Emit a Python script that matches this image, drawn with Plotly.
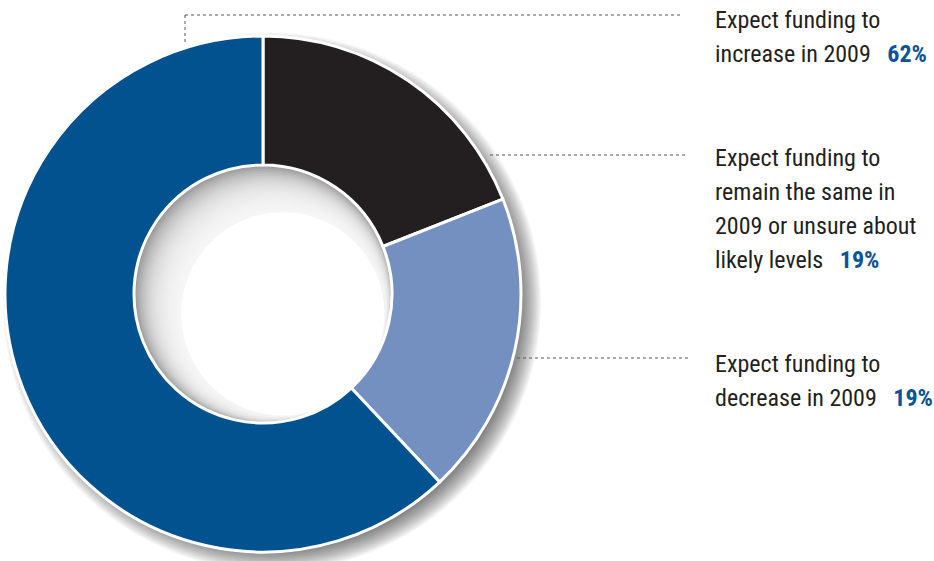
import plotly.graph_objects as go
import numpy as np

# ---- data ----
labels = [
    "Expect funding to remain the same in 2009 or unsure about likely levels",
    "Expect funding to decrease in 2009",
    "Expect funding to increase in 2009",
]
values = [19, 19, 62]
colors = ["#231f20", "#7490c0", "#02528f"]
label_lines = [
    ["Expect funding to", "remain the same in", "2009 or unsure about", "likely levels"],
    ["Expect funding to", "decrease in 2009"],
    ["Expect funding to", "increase in 2009"],
]
pct_text = ["19%", "19%", "62%"]

W, H = 934, 561
CX, CY, R = 263, 294, 258
HOLE = 0.5
FONT = "Roboto Condensed, Liberation Sans Narrow, DejaVu Sans Condensed, Noto Sans, sans-serif"
TXT = "#231f20"
PCT = "#0b5396"
LINE_GAP = 34


def px(x):
    return x / W


def py(y):
    return 1 - y / H


def circle(cx, cy, r, fill, opacity=1.0, layer="below"):
    return dict(type="circle", xref="paper", yref="paper",
                x0=px(cx - r), x1=px(cx + r), y0=py(cy + r), y1=py(cy - r),
                fillcolor=fill, opacity=opacity, line=dict(width=0), layer=layer)


shapes = []
# outer drop shadow (soft)
for s in np.linspace(-10, 10, 14):
    shapes.append(circle(CX + 9, CY + 8, R + 1 + s, "black", 0.042))

# inner shadow of the hole
r_in = R * HOLE
shapes.append(circle(CX, CY, r_in + 2, "white"))
shapes.append(circle(CX, CY, r_in, "#979797"))
ms = np.linspace(1.5, 28, 22)
for m in ms:
    d = m / np.sqrt(2)
    shapes.append(circle(CX + d, CY + d, r_in - m + 0.6, "white", 0.13))
mm = 28 / np.sqrt(2)
shapes.append(circle(CX + mm, CY + mm, r_in - 28 + 0.6, "white"))

# leader lines
dot = dict(color="#555555", width=1, dash="dot")
shapes.append(dict(type="line", xref="paper", yref="paper", x0=px(185), x1=px(185),
                   y0=py(15), y1=py(44), line=dot, layer="above"))
shapes.append(dict(type="line", xref="paper", yref="paper", x0=px(185), x1=px(683),
                   y0=py(15), y1=py(15), line=dot, layer="above"))
shapes.append(dict(type="line", xref="paper", yref="paper", x0=px(490), x1=px(688),
                   y0=py(155), y1=py(155), line=dot, layer="above"))
shapes.append(dict(type="line", xref="paper", yref="paper", x0=px(517), x1=px(688),
                   y0=py(358), y1=py(358), line=dot, layer="above"))

fig = go.Figure(go.Pie(
    labels=labels, values=values, sort=False, direction="clockwise", rotation=0,
    hole=HOLE, textinfo="none",
    marker=dict(colors=colors, line=dict(color="white", width=3)),
    domain=dict(x=[px(CX - R), px(CX + R)], y=[py(CY + R), py(CY - R)]),
    showlegend=False,
))

first_centers = [157, 363, 19]
annotations = []
NB = "\u00a0"
for lines, pct, c0 in zip(label_lines, pct_text, first_centers):
    for i, ln in enumerate(lines):
        txt = ln
        if i == len(lines) - 1:
            txt = ln + NB * 3 + f"<span style='color:{PCT}'><b>{pct}</b></span>"
        annotations.append(dict(text=txt, xref="paper", yref="paper", x=px(713),
                                y=py(c0 + LINE_GAP * i + 1),
                                xanchor="left", yanchor="middle", align="left",
                                showarrow=False,
                                font=dict(family=FONT, size=24, color=TXT)))

fig.update_layout(width=W, height=H, margin=dict(l=0, r=0, t=0, b=0),
                  paper_bgcolor="white", plot_bgcolor="white",
                  shapes=shapes, annotations=annotations)
fig.write_html("out.html", config={"displayModeBar": False},
               post_script="document.body.style.margin='0';document.body.style.overflow='hidden';")
